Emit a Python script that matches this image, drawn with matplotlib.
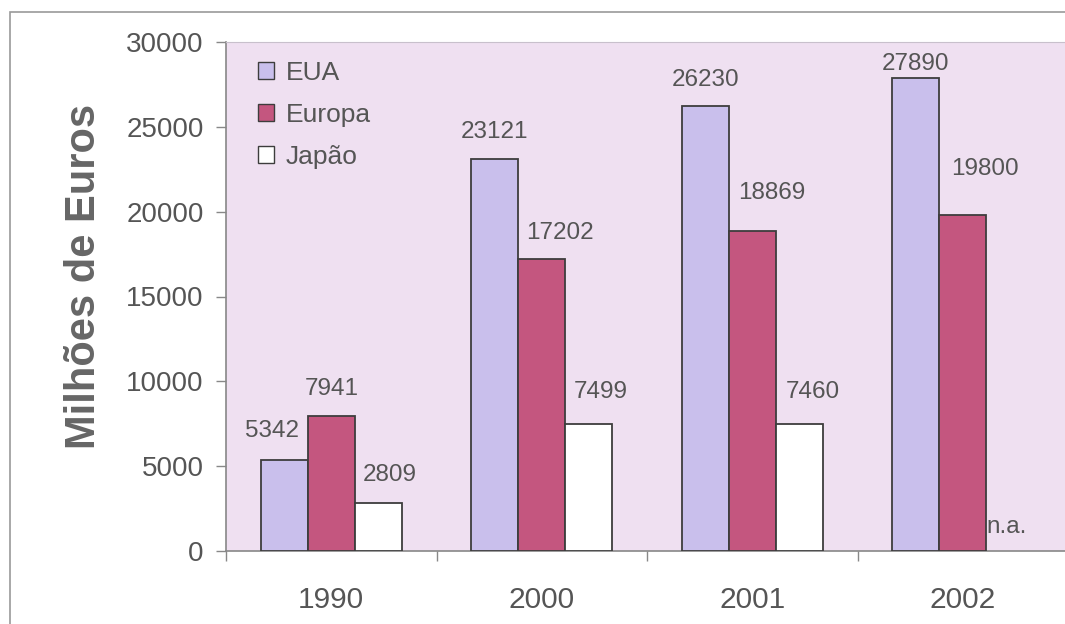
import numpy as np
import matplotlib
matplotlib.use("Agg")
from matplotlib import pyplot as plt
from matplotlib.patches import Rectangle
from matplotlib.ticker import FixedLocator

plt.rcParams["font.family"] = ["Liberation Sans", "DejaVu Sans"]

# ------------------- #
# Data

years = ["1990", "2000", "2001", "2002"]
series_names = ["EUA", "Europa", "Japão"]
eua = [5342, 23121, 26230, 27890]
europa = [7941, 17202, 18869, 19800]
japao = [2809, 7499, 7460, np.nan]  # 2002 not available
y_ticks = [0, 5000, 10000, 15000, 20000, 25000, 30000]

# ------------------- #
# Styling

colors = ["#c9bfec", "#c4567f", "#ffffff"]
text_color = "#555555"
bar_width = 0.223
# label offsets (pixels) from the top centre of each bar
label_offsets = [
    [(-12, 29), (0, 27), (0, 26), (0, 14)],
    [(1, 27), (18, 26), (20, 38), (22, 46)],
    [(12, 28), (12, 32), (14, 32), (-3, 24)],
]

W, H = 1065, 624
fig = plt.figure(figsize=(W / 100, H / 100), dpi=100)
fig.patch.set_facecolor("white")

# outer chart frame
fig.add_artist(Rectangle((10 / W, -0.1), 1.2, (H - 12) / H + 0.1,
                         transform=fig.transFigure, fill=False,
                         edgecolor="#9a9a9a", linewidth=1.2))

left, top, bottom, width = 226, 42, 551, 842
ax = fig.add_axes([left / W, (H - bottom) / H, width / W, (bottom - top) / H])
ax.set_facecolor("#efe0f1")

x = np.arange(len(years))
all_series = [eua, europa, japao]
for i, (vals, name, color) in enumerate(zip(all_series, series_names, colors)):
    pos = x + (i - 1) * bar_width
    vals = np.array(vals, dtype=float)
    ok = ~np.isnan(vals)
    ax.bar(pos[ok], vals[ok], width=bar_width, color=color, edgecolor="#3d3d3d",
           linewidth=1.3, label=name, zorder=3)
    for j, v in enumerate(vals):
        dx, dy = label_offsets[i][j]
        if np.isnan(v):
            txt, yv = "n.a.", 0
        else:
            txt, yv = str(int(v)), v
        ax.annotate(txt, (pos[j], yv), xytext=(dx, dy), textcoords="offset pixels",
                    ha="center", va="center", fontsize=17.5, color=text_color,
                    zorder=4)

ax.set_xlim(-0.5, len(years) - 0.5)
ax.set_ylim(0, 30000)

ax.set_yticks(y_ticks)
ax.set_yticklabels([str(t) for t in y_ticks])
ax.tick_params(axis="y", direction="out", length=7, width=1, color="#888888",
               pad=9, labelsize=20, labelcolor=text_color)

ax.set_xticks(x)
ax.set_xticklabels(years)
ax.tick_params(axis="x", which="major", length=0, pad=25, labelsize=21.5,
               labelcolor=text_color)
ax.xaxis.set_minor_locator(FixedLocator(np.arange(len(years) + 1) - 0.5))
ax.tick_params(axis="x", which="minor", direction="out", length=7, width=1,
               color="#888888")

for side in ["left", "bottom"]:
    ax.spines[side].set_color("#888888")
    ax.spines[side].set_linewidth(1.2)
ax.spines["top"].set_color("#c8c0cc")
ax.spines["right"].set_visible(False)

ax.set_ylabel("Milhões de Euros", fontsize=30, fontweight="bold",
              color="#666666")
ax.yaxis.set_label_coords(-0.145, 0.54)

leg = ax.legend(loc="upper left", bbox_to_anchor=(0.01, 1.01), frameon=False,
                fontsize=19, handlelength=0.6, handleheight=0.6,
                handletextpad=0.45, labelspacing=0.68, labelcolor=text_color)
for h in leg.legend_handles:
    h.set_linewidth(1.0)

fig.savefig("out.png", dpi=100)
